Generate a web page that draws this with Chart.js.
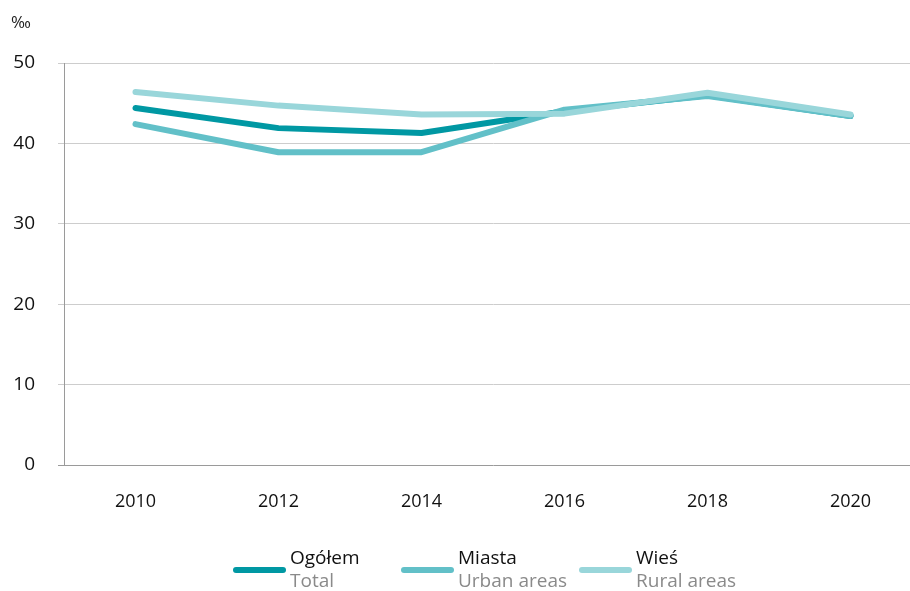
<!DOCTYPE html>
<html>
<head>
<meta charset="utf-8">
<script src="https://cdn.jsdelivr.net/npm/chart.js@4"></script>
<style>
  html, body { margin: 0; padding: 0; background: #fff; overflow: hidden; }
  #wrap { position: relative; width: 930px; height: 591px; }
</style>
</head>
<body>
<div id="wrap"><canvas id="c" width="930" height="591"></canvas></div>
<script>
// Years on the category axis
const years = ['2010', '2012', '2014', '2016', '2018', '2020'];

// Rates per mille
const ogolem = [44.4, 41.9, 41.3, 44.0, 46.0, 43.4];
const miasta = [42.4, 38.9, 38.9, 44.2, 45.9, 43.4];
const wies   = [46.4, 44.7, 43.6, 43.7, 46.3, 43.6];

// Value-axis ticks
const yTicks = [0, 10, 20, 30, 40, 50];

// Legend texts (Polish name, English name)
const seriesNames = ['Ogółem', 'Miasta', 'Wieś'];
const seriesNamesEn = ['Total', 'Urban areas', 'Rural areas'];
const unitLabel = '‰';

const colors = ['#0098a3', '#62c0c8', '#99d6da'];
const FONT = '"Open Sans", "Noto Sans", sans-serif';

const legendPlugin = {
  id: 'twoLineLegend',
  afterDraw(chart) {
    const ctx = chart.ctx;
    ctx.save();
    // unit label above the value axis
    ctx.fillStyle = '#222';
    ctx.font = '17px ' + FONT;
    ctx.textAlign = 'left';
    ctx.textBaseline = 'middle';
    ctx.fillText(unitLabel, 11, 23);

    const starts = [233, 401, 579];
    chart.data.datasets.forEach((ds, i) => {
      const x = starts[i];
      ctx.strokeStyle = ds.borderColor;
      ctx.lineWidth = 6;
      ctx.lineCap = 'round';
      ctx.beginPath();
      ctx.moveTo(x + 3, 570);
      ctx.lineTo(x + 50, 570);
      ctx.stroke();
      ctx.font = '19px ' + FONT;
      ctx.textBaseline = 'middle';
      ctx.fillStyle = '#111';
      ctx.fillText(seriesNames[i], x + 57, 559);
      ctx.fillStyle = '#8a8a8a';
      ctx.fillText(seriesNamesEn[i], x + 57, 582);
    });
    ctx.restore();
  }
};

const makeSet = (label, data, color, order) => ({
  label, data,
  borderColor: color,
  backgroundColor: color,
  borderWidth: 6,
  borderCapStyle: 'round',
  borderJoinStyle: 'round',
  pointRadius: 0,
  tension: 0,
  fill: false,
  order
});

new Chart(document.getElementById('c'), {
  type: 'line',
  data: {
    labels: years,
    datasets: [
      makeSet(seriesNames[0], ogolem, colors[0], 2),
      makeSet(seriesNames[1], miasta, colors[1], 1),
      makeSet(seriesNames[2], wies, colors[2], 0)
    ]
  },
  options: {
    responsive: false,
    animation: false,
    layout: { padding: { top: 63, right: 8, bottom: 0, left: 0 } },
    plugins: { legend: { display: false }, tooltip: { enabled: false } },
    scales: {
      x: {
        offset: true,
        grid: { display: false },
        border: { display: false },
        ticks: { color: '#111', font: { family: FONT, size: 18 }, padding: 18, maxRotation: 0 },
        afterFit(scale) { scale.height = 126; }
      },
      y: {
        min: 0,
        max: 50,
        afterBuildTicks(scale) { scale.ticks = yTicks.map(v => ({ value: v })); },
        grid: {
          color: ctx => (ctx.tick && ctx.tick.value === 0) ? '#9a9a9a' : '#cdcdcd',
          lineWidth: 1,
          drawTicks: true,
          tickLength: 6
        },
        border: { display: true, color: '#9a9a9a', width: 1 },
        ticks: { color: '#111', font: { family: FONT, size: 19 }, padding: 23 },
        afterFit(scale) { scale.width = 64; }
      }
    }
  },
  plugins: [legendPlugin]
});
</script>
</body>
</html>
